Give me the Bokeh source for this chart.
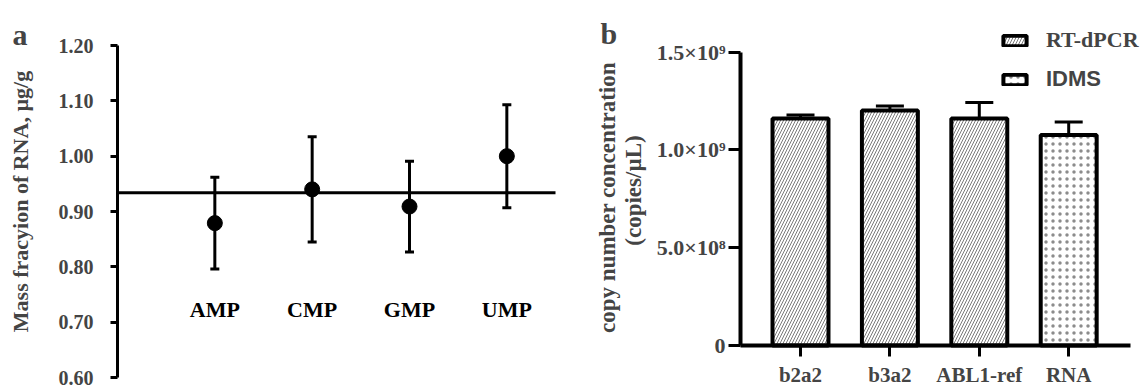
import math
from bokeh.plotting import figure
from bokeh.layouts import row
from bokeh.models import (ColumnDataSource, Whisker, TeeHead, Label, FixedTicker, Range1d,
                          NumeralTickFormatter, Legend, LegendItem)
from bokeh.core.properties import value
from bokeh.embed import file_html
from bokeh.resources import INLINE

# ---------------- data ----------------
# panel a : mass fraction of RNA by nucleotide
nucleotides = ["AMP", "CMP", "GMP", "UMP"]
mass_fraction = [0.879, 0.940, 0.909, 1.000]
mass_fraction_err = [0.083, 0.095, 0.082, 0.093]
mass_fraction_mean = 0.934
yticks_a = [0.60, 0.70, 0.80, 0.90, 1.00, 1.10, 1.20]

# panel b : copy number concentration
targets = ["b2a2", "b3a2", "ABL1-ref", "RNA"]
copy_conc = [1.161e9, 1.202e9, 1.161e9, 1.077e9]
copy_conc_err = [0.018e9, 0.023e9, 0.082e9, 0.066e9]
method = ["RT-dPCR", "RT-dPCR", "RT-dPCR", "IDMS"]
yticks_b = [0, 500000000, 1000000000, 1500000000]
yticklabels_b = ["0", "5.0×10⁸", "1.0×10⁹", "1.5×10⁹"]

SERIF = "Liberation Serif"
SANS = "Liberation Sans"
H = 390

# ---------------- panel a ----------------
WA = 580
ax_px, line_end_px, top_px, bot_px = 117, 555, 45, 377
n_a = len(nucleotides)
xs_a = (line_end_px - ax_px) / (n_a + 0.5)
ys_a = (bot_px - top_px) / (yticks_a[-1] - yticks_a[0])
pa = figure(width=WA, height=H,
            x_range=Range1d(-ax_px / xs_a, (WA - ax_px) / xs_a),
            y_range=Range1d(yticks_a[0] - (H - bot_px) / ys_a, yticks_a[-1] + top_px / ys_a),
            output_backend="svg", toolbar_location=None,
            min_border=0, min_border_left=0, min_border_right=0,
            min_border_top=0, min_border_bottom=0)
pa.xaxis.visible = False
pa.grid.visible = False
pa.outline_line_color = None

ya = pa.yaxis[0]
ya.fixed_location = 0
ya.bounds = (yticks_a[0], yticks_a[-1])
ya.ticker = FixedTicker(ticks=yticks_a, minor_ticks=[])
ya.formatter = NumeralTickFormatter(format="0.00")
ya.axis_line_width = 3
ya.major_tick_line_width = 3
ya.major_tick_out = 7
ya.major_tick_in = 0
ya.minor_tick_line_color = None
ya.major_label_text_font = SERIF
ya.major_label_text_font_style = "bold"
ya.major_label_text_font_size = "20px"
ya.major_label_standoff = 17

xa = list(range(1, n_a + 1))
src_a = ColumnDataSource(dict(
    x=xa, y=mass_fraction,
    lo=[m - e for m, e in zip(mass_fraction, mass_fraction_err)],
    hi=[m + e for m, e in zip(mass_fraction, mass_fraction_err)],
    cat=nucleotides, ly=[0.7225] * n_a))

pa.segment(x0=[0], y0=[mass_fraction_mean], x1=[n_a + 0.5], y1=[mass_fraction_mean],
           line_color="black", line_width=3)
pa.add_layout(Whisker(source=src_a, base="x", lower="lo", upper="hi", dimension="height",
                      line_width=3, line_color="black",
                      upper_head=TeeHead(size=9, line_width=3, line_color="black"),
                      lower_head=TeeHead(size=9, line_width=3, line_color="black")))
pa.scatter("x", "y", source=src_a, size=15, fill_color="black", line_color="black")
pa.text("x", "ly", text="cat", source=src_a, text_font=value(SERIF), text_font_style="bold",
        text_font_size="22px", text_align="center", text_baseline="middle", text_color="black")

pa.add_layout(Label(x=12, y=H - 34, x_units="screen", y_units="screen", text="a",
                    text_font=SERIF, text_font_style="bold", text_font_size="30px",
                    text_baseline="alphabetic", text_align="left"))
pa.add_layout(Label(x=20, y=H - 201, x_units="screen", y_units="screen",
                    text="Mass fracyion of RNA, µg/g", angle=math.pi / 2,
                    text_font=SERIF, text_font_style="bold", text_font_size="22px",
                    text_align="center", text_baseline="middle"))

# ---------------- panel b ----------------
WB = 568
bax_px, bline_end_px, first_px, step_px = 160, 550, 220, 89.4
btop_px, bbot_px = 51.7, 345
n_b = len(targets)
ys_b = (bbot_px - btop_px) / yticks_b[-1]
pb = figure(width=WB, height=H,
            x_range=Range1d(1 - first_px / step_px, 1 + (WB - first_px) / step_px),
            y_range=Range1d(-(H - bbot_px) / ys_b, yticks_b[-1] + btop_px / ys_b),
            output_backend="svg", toolbar_location=None,
            min_border=0, min_border_left=0, min_border_right=0,
            min_border_top=0, min_border_bottom=0)
pb.grid.visible = False
pb.outline_line_color = None

xb = list(range(1, n_b + 1))
src_b = ColumnDataSource(dict(
    x=xb, top=copy_conc,
    up=[v + e for v, e in zip(copy_conc, copy_conc_err)],
    hatch=["/" if m == "RT-dPCR" else "." for m in method],
    hscale=[6 if m == "RT-dPCR" else 7 for m in method],
    hcolor=["#7a7a7a" if m == "RT-dPCR" else "#8c8c8c" for m in method]))

pb.add_layout(Whisker(source=src_b, base="x", lower="top", upper="up", dimension="height",
                      line_width=3, line_color="black",
                      upper_head=TeeHead(size=28, line_width=3, line_color="black"),
                      lower_head=None))
bars = pb.vbar(x="x", top="top", bottom=0, width=0.626, source=src_b, fill_color="white",
               line_color="black", line_width=4, hatch_pattern="hatch",
               hatch_color="hcolor", hatch_scale="hscale", hatch_weight=1)

xbax = pb.xaxis[0]
xbax.fixed_location = 0
xbax.bounds = (1 - (first_px - bax_px) / step_px, 1 + (bline_end_px - first_px) / step_px)
xbax.ticker = FixedTicker(ticks=xb, minor_ticks=[])
xbax.major_label_overrides = {i: t for i, t in zip(xb, targets)}
xbax.axis_line_width = 4
xbax.major_tick_line_width = 3
xbax.major_tick_out = 11
xbax.major_tick_in = 0
xbax.minor_tick_line_color = None
xbax.major_label_text_font = SERIF
xbax.major_label_text_font_style = "bold"
xbax.major_label_text_font_size = "21px"
xbax.major_label_standoff = 6

ybax = pb.yaxis[0]
ybax.fixed_location = 1 - (first_px - bax_px) / step_px
ybax.bounds = (yticks_b[0], yticks_b[-1])
ybax.ticker = FixedTicker(ticks=yticks_b, minor_ticks=[])
ybax.major_label_overrides = {t: l for t, l in zip(yticks_b, yticklabels_b)}
ybax.axis_line_width = 4
ybax.major_tick_line_width = 3
ybax.major_tick_out = 12
ybax.major_tick_in = 0
ybax.minor_tick_line_color = None
ybax.major_label_text_font = SERIF
ybax.major_label_text_font_style = "bold"
ybax.major_label_text_font_size = "22px"
ybax.major_label_standoff = 3

leg1 = Legend(items=[LegendItem(label=method[0], renderers=[bars], index=0)],
              location=(420, H - 40 - 13), orientation="vertical",
              label_text_font=SERIF, label_text_font_style="bold", label_text_font_size="22px",
              glyph_width=29, glyph_height=13, label_standoff=17, padding=0, margin=0,
              border_line_color=None, background_fill_alpha=0)
leg2 = Legend(items=[LegendItem(label=method[3], renderers=[bars], index=3)],
              location=(420, H - 79 - 13), orientation="vertical",
              label_text_font=SANS, label_text_font_style="bold", label_text_font_size="22px",
              glyph_width=29, glyph_height=13, label_standoff=17, padding=0, margin=0,
              border_line_color=None, background_fill_alpha=0)
pb.add_layout(leg1)
pb.add_layout(leg2)

pb.add_layout(Label(x=20, y=H - 33, x_units="screen", y_units="screen", text="b",
                    text_font=SERIF, text_font_style="bold", text_font_size="30px",
                    text_baseline="alphabetic", text_align="left"))
pb.add_layout(Label(x=27, y=H - 197, x_units="screen", y_units="screen",
                    text="copy number concentration", angle=math.pi / 2,
                    text_font=SERIF, text_font_style="bold", text_font_size="23px",
                    text_align="center", text_baseline="middle"))
pb.add_layout(Label(x=53, y=H - 190, x_units="screen", y_units="screen",
                    text="(copies/µL)", angle=math.pi / 2,
                    text_font=SERIF, text_font_style="bold", text_font_size="23px",
                    text_align="center", text_baseline="middle"))

layout = row(pa, pb)
open("out.html", "w").write(file_html(layout, INLINE))
